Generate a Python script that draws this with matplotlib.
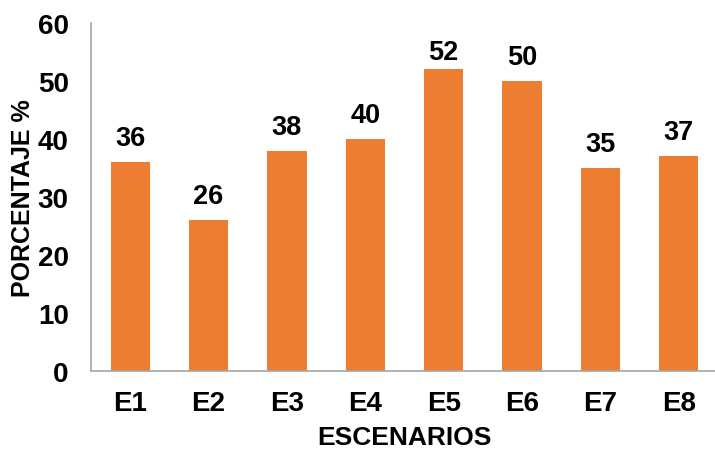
import matplotlib
matplotlib.use("Agg")
import matplotlib.pyplot as plt

escenarios = ["E1", "E2", "E3", "E4", "E5", "E6", "E7", "E8"]
porcentaje = [36, 26, 38, 40, 52, 50, 35, 37]

plt.rcParams['font.family'] = ['Liberation Sans', 'DejaVu Sans']
plt.rcParams['font.weight'] = 'bold'

fig = plt.figure(figsize=(7.15, 4.52), dpi=100)
ax = fig.add_axes([91 / 715, 80 / 452, 627 / 715, 348 / 452])

x = range(len(escenarios))
bars = ax.bar(x, porcentaje, width=0.5, color="#ED7D31")

# value labels above bars, kept below the top of the plot area
for b, v in zip(bars, porcentaje):
    ax.text(b.get_x() + b.get_width() / 2, min(v + 1.9, 52.8), str(v),
            ha="center", va="bottom", fontsize=19.5, fontweight="bold")

ax.set_xlim(-0.5, 7.5)
ax.set_ylim(0, 60)
ax.set_yticks(range(0, 61, 10))
ax.set_xticks(list(x))
ax.set_xticklabels(escenarios)
ax.tick_params(axis="both", length=0)
ax.tick_params(axis="y", labelsize=20, pad=16)
ax.tick_params(axis="x", labelsize=20, pad=14)

for s in ["top", "right"]:
    ax.spines[s].set_visible(False)
for s in ["left", "bottom"]:
    ax.spines[s].set_color("#A6A6A6")
    ax.spines[s].set_linewidth(1.2)

ax.set_ylabel("PORCENTAJE %", fontsize=18, fontweight="bold", labelpad=2)
ax.set_xlabel("ESCENARIOS", fontsize=19, fontweight="bold", labelpad=6)

fig.savefig("out.png", dpi=100)
